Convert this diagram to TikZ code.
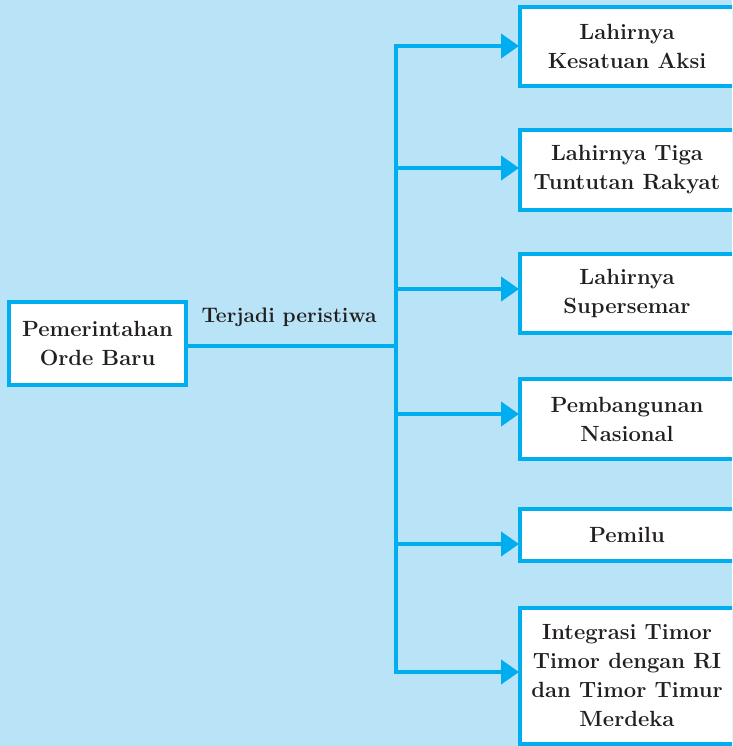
\documentclass[tikz,border=0pt]{standalone}
\usetikzlibrary{arrows.meta}
\definecolor{bgblue}{RGB}{185,227,247}
\definecolor{lineblue}{RGB}{0,174,239}
\definecolor{txt}{RGB}{35,31,32}
\begin{document}
\begin{tikzpicture}[x=1pt,y=-1pt,
  box/.style={draw=lineblue,line width=4pt,fill=white,align=center,
    text=txt,font=\fontsize{22}{29}\selectfont\bfseries,inner sep=0pt,
    minimum width=214pt},
  conn/.style={draw=lineblue,line width=4pt},
  arr/.style={conn,-{Triangle[length=18pt,width=24pt]},shorten >=-1pt}]
\useasboundingbox (0,0) rectangle (732,746);
\clip (0,0) rectangle (732,746);
\fill[bgblue] (0,0) rectangle (732,746);
% left box
\node[box,minimum width=177pt,minimum height=83pt] (pob) at (97.5,343.5) {Pemerintahan\\Orde Baru};
% right boxes
\node[box,minimum height=79pt] (b1) at (627,46.5) {Lahirnya\\Kesatuan Aksi};
\node[box,minimum height=80pt] (b2) at (627,170) {Lahirnya Tiga\\Tuntutan Rakyat};
\node[box,minimum height=79pt] (b3) at (627,293.5) {Lahirnya\\Supersemar};
\node[box,minimum height=80pt] (b4) at (627,419) {Pembangunan\\Nasional};
\node[box,minimum height=52pt] (b5) at (627,535) {Pemilu};
\node[box,minimum height=136pt] (b6) at (627,676) {Integrasi Timor\\Timor dengan RI\\dan Timor Timur\\Merdeka};
% trunk coordinates
\coordinate (j) at (396,346);
\coordinate (t1) at (396,46);
\coordinate (t2) at (396,168);
\coordinate (t3) at (396,289);
\coordinate (t4) at (396,414);
\coordinate (t5) at (396,544);
\coordinate (t6) at (396,672);
\draw[conn] (pob.east |- j) -- (j);
\draw[conn,line cap=rect] (t1) -- (t6);
\node[text=txt,font=\fontsize{21}{24}\selectfont\bfseries] (lbl) at (289,317) {Terjadi peristiwa};
\draw[arr] (t1) -- (t1 -| b1.west);
\draw[arr] (t2) -- (t2 -| b2.west);
\draw[arr] (t3) -- (t3 -| b3.west);
\draw[arr] (t4) -- (t4 -| b4.west);
\draw[arr] (t5) -- (t5 -| b5.west);
\draw[arr] (t6) -- (t6 -| b6.west);
\end{tikzpicture}
\end{document}
